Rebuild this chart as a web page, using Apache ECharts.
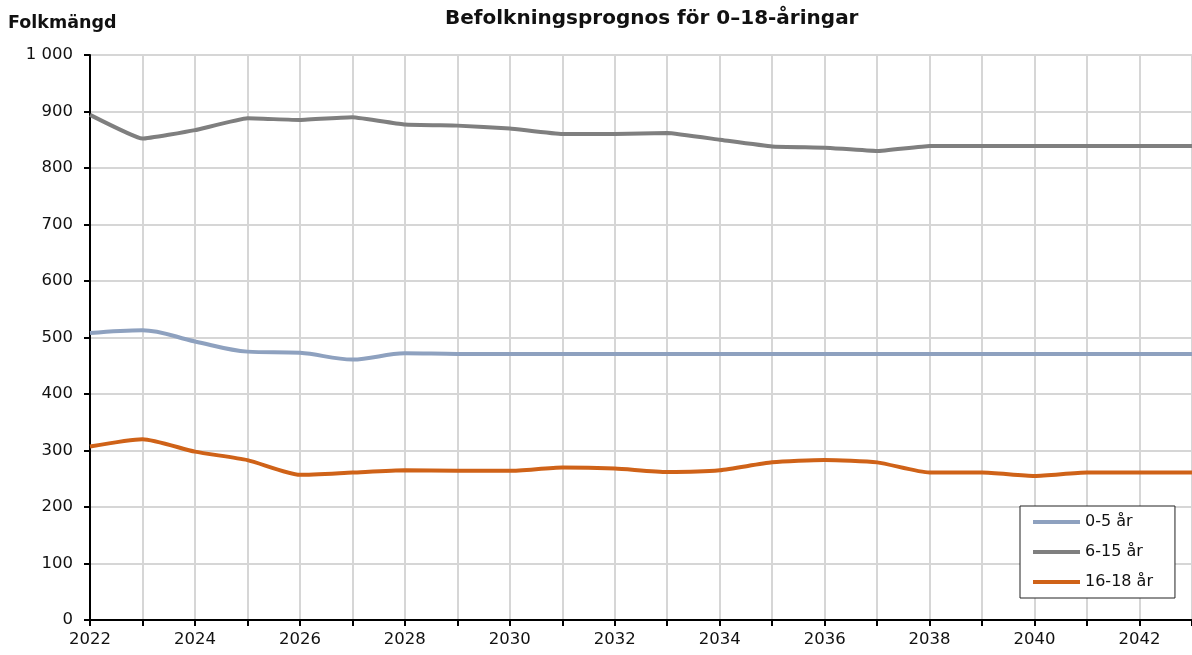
<!DOCTYPE html>
<html>
<head>
<meta charset="utf-8">
<script src="https://cdn.jsdelivr.net/npm/echarts@6/dist/echarts.min.js"></script>
<style>
html,body{margin:0;padding:0;background:#fff;}
#chart{width:1192px;height:655px;}
</style>
</head>
<body>
<div id="chart"></div>
<script>
const years = ['2022','2023','2024','2025','2026','2027','2028','2029','2030','2031','2032','2033','2034','2035','2036','2037','2038','2039','2040','2041','2042','2043'];
const age0to5 = [508,513,493,475,473,461,472,471,471,471,471,471,471,471,471,471,471,471,471,471,471,471];
const age6to15 = [894,852,867,888,885,890,877,875,870,860,860,862,850,838,836,830,839,839,839,839,839,839];
const age16to18 = [307,320,298,283,257,261,265,264,264,270,268,262,265,279,283,279,261,261,255,261,261,261];
const yTicks = [0,100,200,300,400,500,600,700,800,900,1000];
const seriesNames = ['0-5 år','6-15 år','16-18 år'];

const chart = echarts.init(document.getElementById('chart'));
const FONT = 'DejaVu Sans, Liberation Sans, Arial, sans-serif';
chart.setOption({
  animation: false,
  backgroundColor: '#ffffff',
  textStyle: {fontFamily: FONT},
  title: [
    {text: 'Befolkningsprognos för 0–18-åringar', left: 440, top: 4,
     textStyle: {fontFamily: FONT, fontWeight: 'bold', fontSize: 20, color: '#111'}},
    {text: 'Folkmängd', left: 3, top: 9,
     textStyle: {fontFamily: FONT, fontWeight: 'bold', fontSize: 17.5, color: '#111'}}
  ],
  grid: {left: 90, right: -5, top: 55, bottom: 35, containLabel: false},
  legend: {
    orient: 'vertical', left: 1020, top: 506,
    backgroundColor: '#fff', borderColor: '#222', borderWidth: 1,
    padding: [7, 22, 7, 13],
    itemGap: 12,
    icon: 'rect', itemWidth: 47, itemHeight: 4,
    textStyle: {fontFamily: FONT, fontSize: 16, lineHeight: 18, color: '#111'},
    data: seriesNames
  },
  xAxis: {
    type: 'category', data: years, boundaryGap: false,
    axisLine: {lineStyle: {color: '#000', width: 2}},
    axisTick: {show: true, interval: 0, length: 6, lineStyle: {color: '#000', width: 2}},
    axisLabel: {interval: 1, fontSize: 16.5, color: '#111', margin: 11, fontFamily: FONT},
    splitLine: {show: true, interval: 0, lineStyle: {color: '#d6d6d6', width: 2}}
  },
  yAxis: {
    type: 'value', min: 0, max: 1000, interval: 100,
    axisLine: {show: true, lineStyle: {color: '#000', width: 2}},
    axisTick: {show: true, length: 6, lineStyle: {color: '#000', width: 2}},
    axisLabel: {fontSize: 16.5, color: '#111', margin: 17, fontFamily: FONT,
      formatter: v => yTicks.includes(v) ? String(v).replace(/\B(?=(\d{3})+(?!\d))/g, ' ') : ''},
    splitLine: {show: true, lineStyle: {color: '#d6d6d6', width: 2}}
  },
  series: [
    {name: seriesNames[0], type: 'line', data: age0to5, showSymbol: false, smooth: 0.35,
     lineStyle: {color: '#8ea1bf', width: 4}, itemStyle: {color: '#8ea1bf'}},
    {name: seriesNames[1], type: 'line', data: age6to15, showSymbol: false, smooth: 0.1,
     lineStyle: {color: '#7f7f7f', width: 4}, itemStyle: {color: '#7f7f7f'}},
    {name: seriesNames[2], type: 'line', data: age16to18, showSymbol: false, smooth: 0.2,
     lineStyle: {color: '#cf6218', width: 4}, itemStyle: {color: '#cf6218'}}
  ]
});
</script>
</body>
</html>
